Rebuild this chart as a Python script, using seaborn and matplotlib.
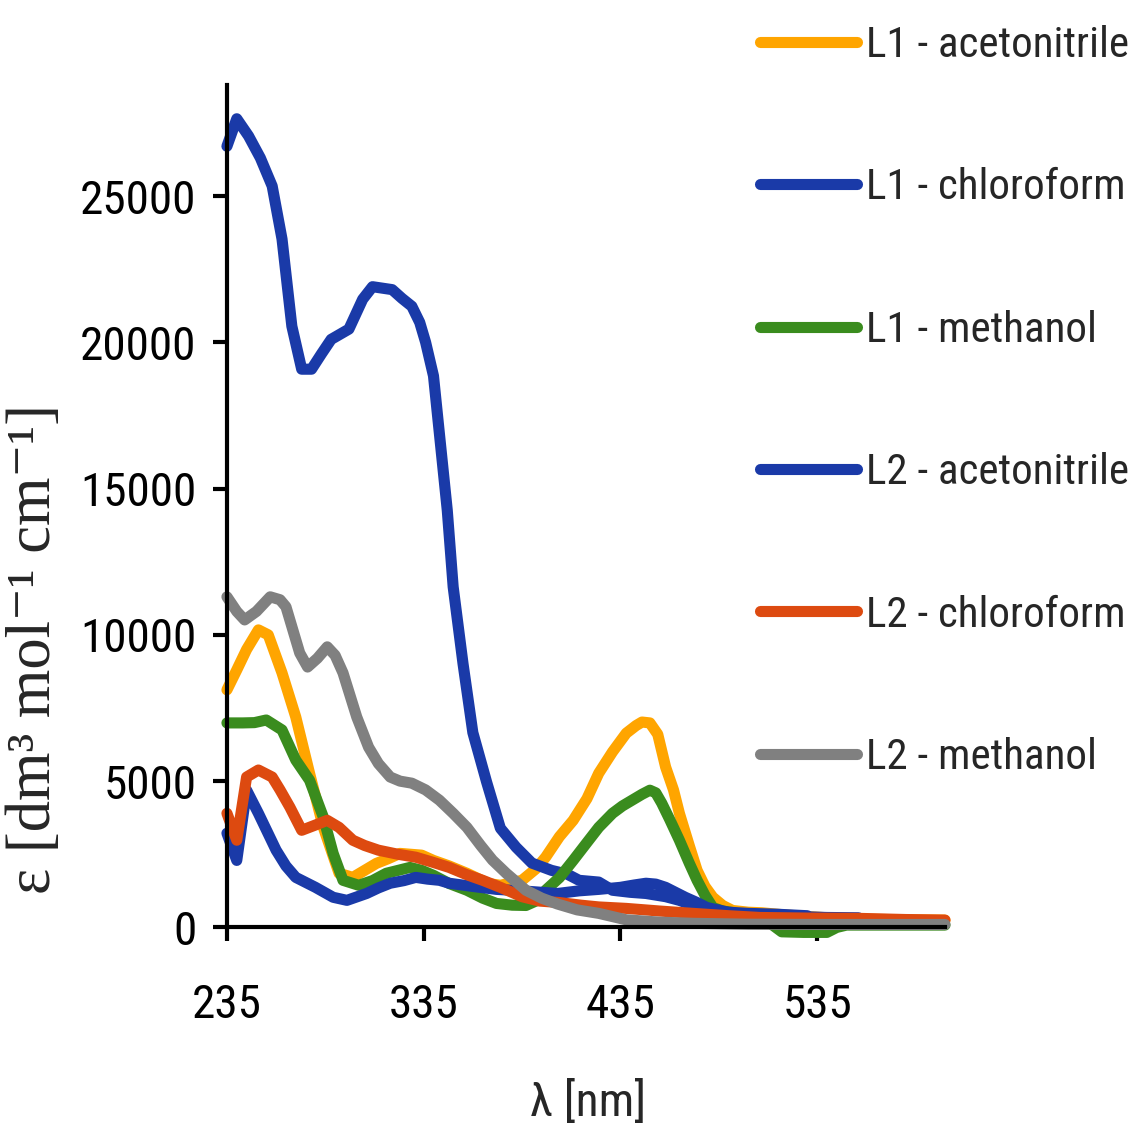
import pandas as pd
import matplotlib
matplotlib.use("Agg")
import matplotlib.pyplot as plt
from matplotlib import font_manager
import seaborn as sns

# --- data ---
series_names = ["L1 - acetonitrile", "L1 - chloroform", "L1 - methanol",
                "L2 - acetonitrile", "L2 - chloroform", "L2 - methanol"]
series_colors = ["#FFA500", "#1A3AA8", "#3A8C1E", "#1A3AA8", "#DD4A10", "#808080"]

l1_acn_wl = [235, 240, 245, 251, 256, 263, 270, 277, 284, 292, 299, 305, 311, 317, 323,
             334, 340, 348, 357, 368, 374, 385, 392, 397, 404, 411, 418, 424, 431, 438,
             443, 446, 450, 454, 458, 462, 465, 470, 474, 478, 482, 487, 492, 500, 507,
             520, 540, 560, 580, 600]
l1_acn_eps = [8120, 8800, 9500, 10170, 10000, 8700, 7190, 5270, 3420, 1850, 1710, 1950, 2190, 2350, 2530,
              2470, 2290, 2100, 1850, 1500, 1440, 1610, 2000, 2400, 3100, 3660, 4400, 5270, 6000, 6640,
              6900, 7020, 6990, 6600, 5480, 4700, 3900, 2800, 1950, 1400, 1030, 750, 580, 520, 500,
              420, 330, 280, 260, 250]

l1_chl_wl = [235, 240, 246, 252, 258, 263, 268, 273, 278, 283, 288, 297, 304, 309, 314,
             319, 324, 329, 333, 336, 340, 343, 347, 350, 355, 360, 367, 374, 382, 390,
             400, 408, 414, 424, 431, 440, 448, 458, 465, 472, 479, 490, 500, 520, 540, 556]
l1_chl_eps = [26700, 27640, 27050, 26300, 25340, 23530, 20550, 19080, 19080, 19600, 20100, 20450, 21470, 21900, 21850,
              21800, 21500, 21230, 20680, 20000, 18850, 16880, 14260, 11640, 9020, 6660, 4970, 3390, 2740, 2200,
              1950, 1820, 1610, 1550, 1270, 1200, 1160, 1050, 925, 750, 580, 450, 420, 380, 340, 330]

l1_meoh_wl = [235, 243, 249, 255, 263, 270, 277, 284, 289, 294, 302, 309, 316, 322, 328,
              334, 340, 348, 357, 365, 372, 380, 387, 392, 397, 404, 411, 418, 424, 431,
              436, 441, 446, 450, 453, 456, 460, 465, 470, 474, 478, 482, 487, 492, 500,
              510, 517, 528, 540, 545, 550, 600]
l1_meoh_eps = [6990, 6990, 7000, 7090, 6750, 5720, 5030, 3770, 2530, 1610, 1440, 1600, 1850, 1950, 2050,
               1950, 1780, 1500, 1270, 1000, 820, 760, 750, 900, 1270, 1700, 2290, 2900, 3420, 3900,
               4150, 4350, 4550, 4690, 4600, 4250, 3700, 2980, 2200, 1610, 1100, 680, 560, 510, 400,
               200, -150, -170, -170, 0, 80, 80]

l2_acn_wl = [235, 240, 245, 251, 260, 265, 270, 280, 289, 296, 306, 312, 318, 325, 331,
             337, 343, 348, 360, 372, 385, 403, 414, 424, 435, 442, 448, 453, 458, 463,
             468, 474, 479, 490, 500, 515, 530]
l2_acn_eps = [3220, 2290, 4690, 3900, 2640, 2100, 1710, 1370, 1030, 925, 1160, 1350, 1510, 1600, 1710,
              1650, 1610, 1510, 1400, 1300, 1250, 1160, 1250, 1300, 1370, 1450, 1510, 1480, 1370, 1200,
              1030, 850, 680, 520, 480, 450, 400]

l2_chl_wl = [235, 240, 245, 251, 258, 262, 267, 273, 280, 286, 292, 299, 305, 312, 322,
             331, 340, 348, 357, 365, 374, 385, 394, 404, 415, 424, 438, 455, 472, 490,
             506, 530, 556, 580, 600]
l2_chl_eps = [3900, 2980, 5140, 5380, 5140, 4700, 4110, 3320, 3500, 3660, 3420, 2980, 2800, 2640, 2500,
              2400, 2220, 2050, 1800, 1610, 1370, 1050, 900, 850, 760, 700, 650, 560, 480, 400,
              340, 320, 310, 270, 250]

l2_meoh_wl = [235, 240, 244, 250, 257, 262, 265, 272, 276, 281, 286, 290, 294, 301, 307,
              312, 318, 323, 329, 336, 343, 350, 357, 364, 370, 377, 387, 395, 403, 413,
              424, 438, 455, 472, 500, 540, 600]
l2_meoh_eps = [11300, 10800, 10510, 10800, 11300, 11200, 10960, 9380, 8900, 9200, 9590, 9300, 8700, 7190, 6160,
               5600, 5140, 5000, 4930, 4700, 4350, 3900, 3420, 2800, 2300, 1850, 1270, 1000, 800, 600,
               480, 260, 180, 140, 110, 100, 100]

x_ticks = [235, 335, 435, 535]
y_ticks = [0, 5000, 10000, 15000, 20000, 25000]

all_wl = [l1_acn_wl, l1_chl_wl, l1_meoh_wl, l2_acn_wl, l2_chl_wl, l2_meoh_wl]
all_eps = [l1_acn_eps, l1_chl_eps, l1_meoh_eps, l2_acn_eps, l2_chl_eps, l2_meoh_eps]

frames = []
for name, wl, eps in zip(series_names, all_wl, all_eps):
    frames.append(pd.DataFrame({"wl": wl, "eps": eps, "series": name}))
df = pd.concat(frames, ignore_index=True)

# narrow sans if we have one, otherwise shrink the plain one
installed = {f.name for f in font_manager.fontManager.ttflist}
if "Roboto Condensed" in installed:
    sans = ["Roboto Condensed", "DejaVu Sans"]
    tick_size, legend_size = 34, 31
else:
    sans = ["Liberation Sans", "DejaVu Sans"]
    tick_size, legend_size = 30, 26

# --- plot ---
sns.set_style("ticks")
plt.rcParams["font.family"] = sans

fig = plt.figure(figsize=(11.29, 11.31), dpi=100)
ax = fig.add_axes([0.201, 0.180, 0.636, 0.745])

sns.lineplot(data=df, x="wl", y="eps", hue="series", hue_order=series_names,
             palette=dict(zip(series_names, series_colors)), sort=False,
             estimator=None, linewidth=8, ax=ax)
for line in ax.get_lines():
    line.set_clip_on(False)
    line.set_solid_capstyle("round")
    line.set_solid_joinstyle("round")

ax.set_xlim(235, 600)
ax.set_ylim(0, 28800)
ax.set_xticks(x_ticks)
ax.set_yticks(y_ticks)
sns.despine(ax=ax)
for side in ["left", "bottom"]:
    ax.spines[side].set_linewidth(3)
    ax.spines[side].set_color("black")
ax.tick_params(axis="both", width=3, length=10, labelsize=tick_size, colors="black")
ax.tick_params(axis="x", pad=30)
ax.tick_params(axis="y", pad=12)

ax.set_xlabel("λ [nm]", fontsize=tick_size)
ax.xaxis.set_label_coords(0.503, -0.181)
ax.set_ylabel("ε [dm³ mol⁻¹ cm⁻¹]", fontsize=45,
              family=["Liberation Serif", "DejaVu Serif"])
ax.yaxis.set_label_coords(-0.227, 0.331)

sns.move_legend(ax, "upper left", bbox_to_anchor=(0.742, 1.071), frameon=False,
                title=None, fontsize=legend_size, handlelength=70 / legend_size,
                handletextpad=0.22, labelspacing=73 / legend_size,
                borderpad=0, borderaxespad=0)
for h in ax.get_legend().legend_handles:
    h.set_linewidth(8)
    h.set_solid_capstyle("round")

fig.savefig("out.png", dpi=100)
